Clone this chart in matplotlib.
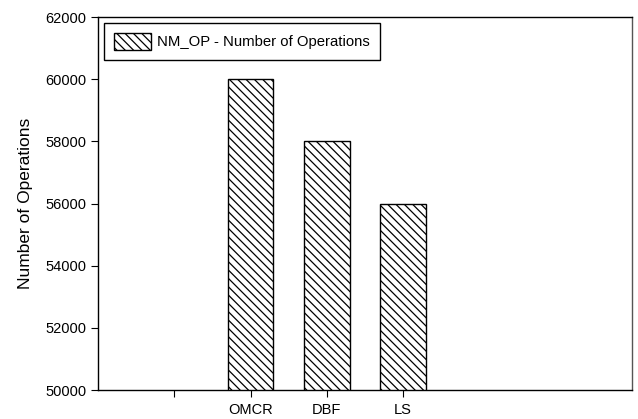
import matplotlib
matplotlib.use('Agg')
import matplotlib.pyplot as plt
import numpy as np

# data
categories = ['', 'OMCR', 'DBF', 'LS']
bar_labels = ['OMCR', 'DBF', 'LS']
ops = [60000, 58000, 56000]
series_name = 'NM_OP - Number of Operations'

plt.rcParams['font.family'] = ['Liberation Sans', 'DejaVu Sans']
plt.rcParams['hatch.linewidth'] = 0.9

fig = plt.figure(figsize=(6.38, 4.19), dpi=100)
ax = fig.add_axes([0.1536, 0.0692, 0.837, 0.890])

pos = [categories.index(c) for c in bar_labels]
ax.bar(pos, ops, width=0.6, color='white', edgecolor='black', linewidth=1.0,
       hatch='\\\\\\\\', label=series_name, bottom=0)

ax.set_xlim(-1, 6)
ax.set_ylim(50000, 62000)
ax.set_xticks(range(len(categories)))
ax.set_xticklabels(categories, fontsize=10.5)
ax.set_yticks(np.arange(50000, 62001, 2000))
ax.tick_params(axis='y', labelsize=10.5, direction='out', length=5)
ax.tick_params(axis='x', direction='out', length=5, pad=4)
ax.set_ylabel('Number of Operations', fontsize=12.5, labelpad=9)

for s in ax.spines.values():
    s.set_linewidth(1.0)
ax.spines['right'].set_color('#555555')

leg = ax.legend(loc='upper left', bbox_to_anchor=(0.0, 1.0), fontsize=10.7,
                fancybox=False, edgecolor='black', framealpha=1,
                handlelength=2.5, handleheight=1.4, borderpad=0.65,
                handletextpad=0.45, borderaxespad=0.4)
leg.get_frame().set_linewidth(1.0)

fig.savefig('out.png', dpi=100)
